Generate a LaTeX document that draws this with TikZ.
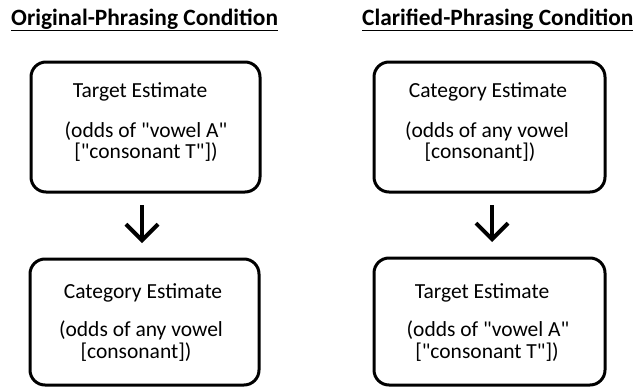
\documentclass[tikz,border=0pt]{standalone}
\usepackage{fontspec}
\setmainfont{Carlito}[Ligatures=TeXOff]
\usetikzlibrary{arrows.meta}
\tikzset{
  estbox/.style={draw, line width=3pt, rounded corners=15pt, inner sep=0pt},
  estline/.style={font=\fontsize{21.5}{24}\selectfont, inner sep=0pt, anchor=base},
  headline/.style={font=\bfseries\fontsize{23.4}{26}\selectfont, inner sep=0pt, anchor=base west},
  flow/.style={-{Straight Barb[length=16pt,width=32pt]}, line width=4pt, shorten <=13pt, shorten >=16pt}
}
\begin{document}
\begin{tikzpicture}[x=1pt,y=-1pt]
      \useasboundingbox (0,0) rectangle (639,388);
      % condition headings
      \node[headline] (origHead) at (11,25) {\underline{Original-Phrasing Condition}};
      \node[headline] (clarHead) at (362,25) {\underline{Clarified-Phrasing Condition}};
      % boxes
      \draw[estbox] (31,62) rectangle (260,192) node[midway] (origTop) {};
      \draw[estbox] (30,259) rectangle (259,385) node[midway] (origBot) {};
      \draw[estbox] (374,62) rectangle (605,192) node[midway] (clarTop) {};
      \draw[estbox] (374,258) rectangle (605,385) node[midway] (clarBot) {};
      \coordinate (origTopS) at (142,192);
      \coordinate (origBotN) at (142,259);
      \coordinate (clarTopS) at (492,192);
      \coordinate (clarBotN) at (492,258);
      % texts, original order
      \node[estline] (ot1) at (140,97) {Target Estimate};
      \node[estline] (ot2) at (146,137) {(odds of "vowel A"};
      \node[estline] (ot3) at (146,158) {["consonant T"])};
      \node[estline] (ob1) at (143,298) {Category Estimate};
      \node[estline] (ob2) at (141,336) {(odds of any vowel};
      \node[estline] (ob3) at (136,358) {[consonant])};
      % texts, clarified order
      \node[estline] (ct1) at (488,97) {Category Estimate};
      \node[estline] (ct2) at (487,137) {(odds of any vowel};
      \node[estline] (ct3) at (480,158) {[consonant])};
      \node[estline] (cb1) at (482,298) {Target Estimate};
      \node[estline] (cb2) at (488,336) {(odds of "vowel A"};
      \node[estline] (cb3) at (487,358) {["consonant T"])};
      \begin{scope}[flow]
        \draw (origTopS) to (origBotN);
        \draw (clarTopS) to (clarBotN);
      \end{scope}
    \end{tikzpicture}
\end{document}
